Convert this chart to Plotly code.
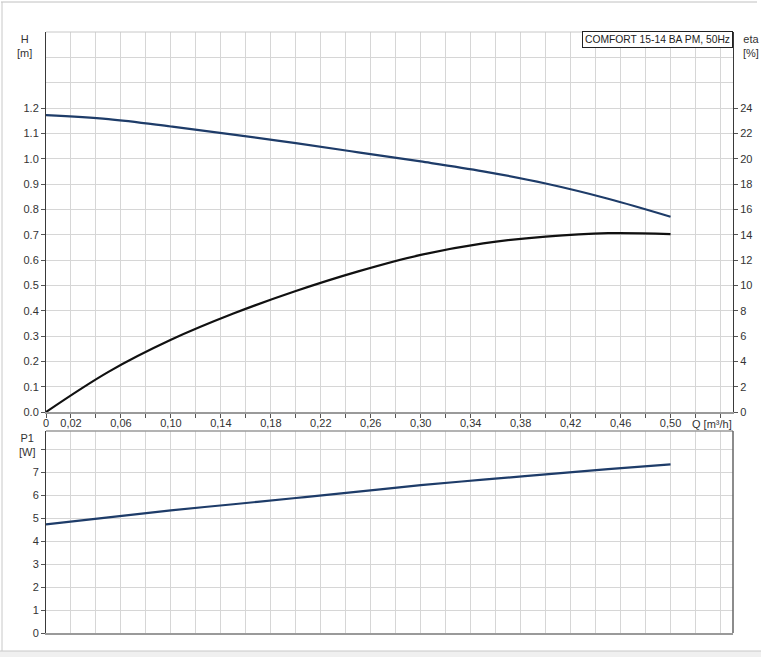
import plotly.graph_objects as go

# ---- data ----
Q = [0, 0.05, 0.10, 0.15, 0.20, 0.25, 0.30, 0.35, 0.40, 0.45, 0.50]
H_m = [1.172, 1.156, 1.127, 1.095, 1.061, 1.025, 0.989, 0.950, 0.902, 0.842, 0.771]
ETA_pct = [0, 3.17, 5.70, 7.77, 9.55, 11.10, 12.40, 13.31, 13.85, 14.12, 14.05]
P1_W = [4.73, 5.04, 5.34, 5.61, 5.88, 6.16, 6.44, 6.68, 6.91, 7.14, 7.35]

x_tickvals = [0, 0.02, 0.06, 0.10, 0.14, 0.18, 0.22, 0.26, 0.30, 0.34, 0.38, 0.42, 0.46, 0.50]
x_ticktext = ["0", "0,02", "0,06", "0,10", "0,14", "0,18", "0,22", "0,26", "0,30",
              "0,34", "0,38", "0,42", "0,46", "0,50"]
h_tickvals = [0, 0.1, 0.2, 0.3, 0.4, 0.5, 0.6, 0.7, 0.8, 0.9, 1.0, 1.1, 1.2]
h_ticktext = ["0.0", "0.1", "0.2", "0.3", "0.4", "0.5", "0.6", "0.7", "0.8", "0.9", "1.0", "1.1", "1.2"]
eta_tickvals = [0, 2, 4, 6, 8, 10, 12, 14, 16, 18, 20, 22, 24]
p_tickvals = [0, 1, 2, 3, 4, 5, 6, 7, 8]
p_ticktext = ["0", "1", "2", "3", "4", "5", "6", "7", ""]

title_text = "COMFORT 15-14 BA PM, 50Hz"

# ---- layout geometry (pixels) ----
W, Hpx = 761, 657
L, R, T, B = 46, 28, 32, 24
PW, PH = W - L - R, Hpx - T - B


def px(x):
    return (x - L) / PW


def py(y):
    return (Hpx - B - y) / PH


BLUE = "#1e3c69"
GRID = "#d6d6d6"
DARK = "#3a3a3a"
GRAYAX = "#9a9a9a"
FONT = dict(family="Liberation Sans, Arial, sans-serif", size=11, color="#333333")

fig = go.Figure()
fig.add_trace(go.Scatter(x=Q, y=H_m, mode="lines", line=dict(color=BLUE, width=2.2, shape="spline"),
                         xaxis="x", yaxis="y", hoverinfo="skip"))
fig.add_trace(go.Scatter(x=Q, y=ETA_pct, mode="lines", line=dict(color="#111111", width=2.2, shape="spline"),
                         xaxis="x", yaxis="y2", hoverinfo="skip"))
fig.add_trace(go.Scatter(x=Q, y=P1_W, mode="lines", line=dict(color=BLUE, width=2.2, shape="spline"),
                         xaxis="x2", yaxis="y3", hoverinfo="skip"))

top_dom = [py(412), 1]
bot_dom = [0, py(431)]

fig.update_layout(
    width=W, height=Hpx,
    margin=dict(l=L, r=R, t=T, b=B),
    paper_bgcolor="white", plot_bgcolor="white",
    showlegend=False, font=FONT,
    xaxis=dict(domain=[0, 1], range=[0, 0.55], anchor="y", automargin=False,
               tickmode="array", tickvals=x_tickvals, ticktext=x_ticktext,
               ticks="", showgrid=True, gridcolor=GRID, gridwidth=1,
               minor=dict(tick0=0, dtick=0.02, showgrid=True, gridcolor=GRID, gridwidth=1,
                          ticks="outside", ticklen=4, tickcolor="#555555"),
               showline=True, linecolor=GRAYAX, linewidth=2, zeroline=False,
               tickfont=FONT),
    yaxis=dict(domain=top_dom, range=[0, 1.5], anchor="x", automargin=False,
               tickmode="array", tickvals=h_tickvals, ticktext=h_ticktext,
               ticks="outside", ticklen=4, tickcolor="#555555",
               showgrid=True, gridcolor=GRID,
               minor=dict(tick0=0, dtick=0.1, showgrid=True, gridcolor=GRID),
               showline=True, linecolor=DARK, linewidth=1, zeroline=False, tickfont=FONT),
    yaxis2=dict(range=[0, 30], overlaying="y", side="right", anchor="x", automargin=False,
                tickmode="array", tickvals=eta_tickvals,
                ticks="outside", ticklen=4, tickcolor="#555555",
                showgrid=False, showline=True, linecolor=DARK, linewidth=1,
                zeroline=False, tickfont=FONT),
    xaxis2=dict(domain=[0, 1], range=[0, 0.55], anchor="y3", automargin=False,
                tick0=0, dtick=0.02, showticklabels=False, ticks="",
                showgrid=True, gridcolor=GRID,
                showline=True, linecolor=GRAYAX, linewidth=2, zeroline=False),
    yaxis3=dict(domain=bot_dom, range=[0, 8.8], anchor="x2", automargin=False,
                tickmode="array", tickvals=p_tickvals, ticktext=p_ticktext,
                ticks="outside", ticklen=4, tickcolor="#555555",
                showgrid=True, gridcolor=GRID,
                showline=True, linecolor=DARK, linewidth=1, zeroline=False, tickfont=FONT),
)

shapes = [
    dict(type="line", xref="x domain", yref="y domain", x0=0, x1=1, y0=1, y1=1,
         line=dict(color="#c8c8c8", width=1)),
    dict(type="line", xref="x2 domain", yref="y3 domain", x0=0, x1=1, y0=1, y1=1,
         line=dict(color=GRAYAX, width=1.5)),
    dict(type="line", xref="x2 domain", yref="y3 domain", x0=1, x1=1, y0=0, y1=1,
         line=dict(color="#666666", width=1.5)),
    dict(type="line", xref="paper", yref="paper", x0=px(1), x1=px(757), y0=py(2), y1=py(2),
         line=dict(color="#c0c0c0", width=1)),
    dict(type="line", xref="paper", yref="paper", x0=px(2), x1=px(2), y0=py(2), y1=py(651),
         line=dict(color="#c8c8c8", width=1)),
    dict(type="rect", xref="paper", yref="paper", x0=px(0), x1=px(761), y0=py(651), y1=py(658),
         line=dict(width=0), fillcolor="#f0f0f0", layer="below"),
    dict(type="line", xref="paper", yref="paper", x0=px(0), x1=px(761), y0=py(651), y1=py(651),
         line=dict(color="#c8c8c8", width=1)),
]
fig.update_layout(shapes=shapes)

ann = [
    dict(text="H<br>[m]", x=px(24), y=py(31), xanchor="center", yanchor="top"),
    dict(text="eta<br>[%]", x=px(751), y=py(31), xanchor="center", yanchor="top"),
    dict(text="P1<br>[W]", x=px(27), y=py(430), xanchor="center", yanchor="top"),
    dict(text="Q [m³/h]", x=px(690), y=py(424), xanchor="left", yanchor="middle"),
]
annotations = []
for a in ann:
    a.update(xref="paper", yref="paper", showarrow=False, font=FONT, align="center")
    annotations.append(a)
annotations.append(dict(text=title_text, xref="paper", yref="paper", x=px(733), y=py(31),
                        xanchor="right", yanchor="top", showarrow=False,
                        font=dict(family="Liberation Sans, Arial, sans-serif", size=10.3, color="#222222"),
                        bgcolor="white", bordercolor="#222222", borderwidth=1, borderpad=2))
fig.update_layout(annotations=annotations)

fig.write_html("out.html", config=dict(displayModeBar=False, staticPlot=True),
               post_script="document.body.style.margin='0px';document.body.style.overflow='hidden';")
